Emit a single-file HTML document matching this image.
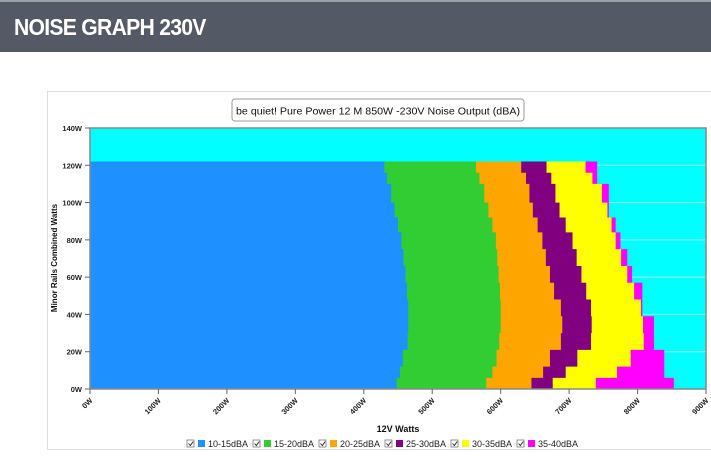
<!DOCTYPE html>
<html><head><meta charset="utf-8"><style>
body{margin:0;width:711px;height:470px;overflow:hidden;background:#fff;font-family:"Liberation Sans",sans-serif}
#hdr{position:absolute;left:0;top:0;width:711px;height:52px;background:#535a66;border-top:2px solid #9aa0a8;box-sizing:border-box}
#hdr span{position:absolute;left:14px;top:12px;color:#fff;font-weight:bold;font-size:23px;letter-spacing:-0.8px;transform:scaleX(0.92);transform-origin:left}
#panel{position:absolute;left:47px;top:91px;width:680px;height:359px;border:1px solid #ddd;box-sizing:border-box}
svg{position:absolute;left:0;top:0}
</style></head><body>
<div id="hdr"><span>NOISE GRAPH 230V</span></div>
<div id="panel"></div>
<svg id="chart" width="711" height="470"></svg>
<script>
const minorLevels=[0,6,12,21,30,39,48,57,66,75,84,92,100,110,116,122];
const band10_15=[448,453,457,464,465,465,463,461,458,455,450,445,440,434,430,428];
const band15_20=[579,588,594,598,600,600,599,597,595,593,588,582,576,569,564,561];
const band20_25=[645,662,672,688,690,688,678,672,666,661,654,647,642,637,630,624];
const band25_30=[676,695,712,732,733,732,725,718,711,705,695,686,680,674,667,661];
const band30_35=[739,770,790,809,808,805,795,785,776,768,762,756,748,734,724,715];
const band35_40=[853,839,839,824,824,807,807,792,785,775,768,758,758,741,741,726];
const bandNames=["10-15dBA","15-20dBA","20-25dBA","25-30dBA","30-35dBA","35-40dBA"];
const bandColors=["#1e90ff","#32cd32","#ffa500","#800080","#ffff00","#ff00ff"];
const xTicks=[0,100,200,300,400,500,600,700,800,900];
const yTicks=[0,20,40,60,80,100,120,140];
const X0=90,X1=706,Y0=389,Y1=128;
const xs=v=>X0+(v/900)*(X1-X0);
const ys=v=>Y0-(v/140)*(Y0-Y1);
const NS="http://www.w3.org/2000/svg";
const svgEl=document.getElementById('chart');
function mk(t,a,p){const e=document.createElementNS(NS,t);for(const k in a)e.setAttribute(k,a[k]);(p||svgEl).appendChild(e);return e;}
let tb=mk('rect',{x:232,y:99,width:292,height:22,rx:3,fill:'#fff',stroke:'#999'});


let tt=mk('text',{x:378,y:114.5,'text-anchor':'middle','font-size':'10.5',fill:'#111',textLength:'284',lengthAdjust:'spacingAndGlyphs'});tt.textContent="be quiet! Pure Power 12 M 850W -230V Noise Output (dBA)";


let bg=mk('rect',{x:X0,y:Y1,width:X1-X0,height:Y0-Y1,fill:'#00ffff'});


yTicks.forEach(v=>{if(v>0&&v<140){let g=mk('line',{x1:X0,x2:X1,y1:ys(v),y2:ys(v),stroke:'#9ef0f0','stroke-width':1});

}});
const bands=[band10_15,band15_20,band20_25,band25_30,band30_35,band35_40];
const topLevel=minorLevels[minorLevels.length-1];
for(let b=bands.length-1;b>=0;b--){
  const arr=bands[b];let pts=[[xs(0),ys(0)]];
  for(let i=0;i<minorLevels.length;i++){
    const yl=ys(minorLevels[i]);const yh=i<minorLevels.length-1?ys(minorLevels[i+1]):ys(topLevel);
    pts.push([xs(arr[i]),yl]);pts.push([xs(arr[i]),yh]);
  }
  pts.push([xs(0),ys(topLevel)]);
  let p=mk('polygon',{points:pts.map(q=>q.join(',')).join(' '),fill:bandColors[b]});
  
  
}
let fr=mk('rect',{x:X0,y:Y1,width:X1-X0,height:Y0-Y1,fill:'none',stroke:'#888','stroke-width':1.5});


yTicks.forEach(v=>{
  mk('line',{x1:X0-5,x2:X0,y1:ys(v),y2:ys(v),stroke:'#666'});
  let t=mk('text',{x:X0-8,y:ys(v)+3,'text-anchor':'end','font-size':'7.5','font-weight':'bold',fill:'#222'});t.textContent=v+'W';
  
  
});
xTicks.forEach(v=>{
  mk('line',{x1:xs(v),x2:xs(v),y1:Y0,y2:Y0+5,stroke:'#666'});
  let t=mk('text',{x:xs(v)+3,y:Y0+12,'text-anchor':'end','font-size':'7.5','font-weight':'bold',fill:'#222',transform:`rotate(-45 ${xs(v)+3} ${Y0+12})`});t.textContent=v+'W';
  
  
});
let xt=mk('text',{x:398,y:432,'text-anchor':'middle','font-size':'9','font-weight':'bold',fill:'#111'});xt.textContent='12V Watts';


let yt=mk('text',{x:57,y:258,'text-anchor':'middle','font-size':'8','font-weight':'bold',fill:'#111',transform:'rotate(-90 57 258)'});yt.textContent='Minor Rails Combined Watts';


const legX=[187,253,319,385,451,517];
bandNames.forEach((n,i)=>{
  const g=mk('g',{});
  
  
  const x=legX[i];
  mk('rect',{x:x,y:440,width:7,height:7,fill:'#fff',stroke:'#666','stroke-width':0.7},g);
  mk('path',{d:`M${x+1.5} ${443.5} l1.8 2 l3-4`,fill:'none',stroke:'#222','stroke-width':0.9},g);
  mk('rect',{x:x+11,y:440,width:7,height:7,fill:bandColors[i]},g);
  const t=mk('text',{x:x+21,y:447,'font-size':'9',fill:'#222'},g);t.textContent=n;
});
</script>
</body></html>
